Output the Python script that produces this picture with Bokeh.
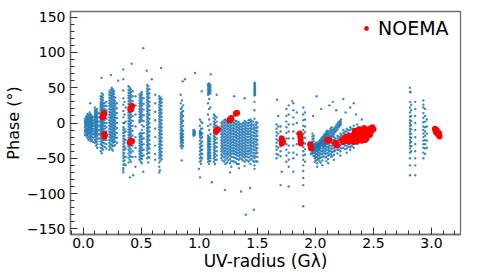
from bokeh.plotting import figure
from bokeh.models import Range1d, SingleIntervalTicker, Legend, LegendItem, ColumnDataSource
from bokeh.embed import file_html
from bokeh.resources import INLINE

# ---------------- data ----------------
# Blue visibilities, vertical strips: x position of each strip and its phase values
strips_low_x = [0.015, 0.025, 0.035, 0.045, 0.055, 0.065, 0.075, 0.085, 0.10, 0.11,
                0.12, 0.135, 0.15, 0.16, 0.17, 0.185, 0.20, 0.225, 0.235, 0.245,
                0.255, 0.265, 0.275, 0.29, 0.345, 0.355, 0.365, 0.39, 0.40, 0.41,
                0.425, 0.45, 0.485, 0.495, 0.505, 0.52, 0.55, 0.56, 0.57, 0.62,
                0.655, 0.665, 0.675]
strips_low_y = [
    [6, 3, 0, -3, -6, -10, -13, -17],
    [9, 5, 2, -1, -4, -8, -11, -14, -18],
    [13, 10, 7, 4, 1, -2, -5, -8, -11, -14, -17, -21],
    [11, 8, 5, 2, -1, -4, -7, -10, -13, -16, -20, -24],
    [15, 12, 9, 6, 3, 0, -3, -6, -9, -12, -15, -19, -23],
    [12, 8, 5, 2, -1, -4, -7, -10, -13, -17, -21, -26],
    [10, 7, 4, 1, -2, -5, -8, -11, -15, -19, -24],
    [8, 4, 0, -4, -8, -12, -16, -21, -27],
    [22, 19, 16, 13, 10, 7, 4, 1, -2, -5, -8, -11, -14, -17, -20, -24, -28],
    [18, 14, 11, 8, 5, 2, -1, -4, -7, -10, -13, -16, -19, -23, -27, -32],
    [20, 16, 12, 9, 6, 3, 0, -3, -6, -9, -12, -15, -18, -22, -26, -30, -35],
    [14, 8, 2, -4, -10, -16, -22],
    [38, 34, 30, 27, 24, 21, 18, 15, 12, 9, 6, 3, 0, -3, -6, -9, -12, -15, -18, -22, -26, -30, -35, -40],
    [42, 37, 33, 29, 26, 23, 20, 17, 14, 11, 8, 5, 2, -1, -4, -7, -10, -13, -16, -19, -23, -27, -31, -36, -43],
    [40, 36, 32, 28, 25, 22, 19, 16, 13, 10, 7, 4, 1, -2, -5, -8, -11, -14, -17, -20, -24, -28, -33, -38],
    [28, 24, 20, 16, 12, 8, 4, 0, -4, -8, -12, -16, -20, -24, -29, -34],
    [30, 24, 18, 12, 6, 0, -6, -12, -18, -24, -30, -36],
    [44, 40, 36, 32, 28, 24, 20, 16, 12, 8, 4, 0, -4, -8, -12, -16, -20, -24, -28, -33, -38],
    [47, 43, 39, 35, 31, 27, 23, 19, 15, 11, 7, 3, -1, -5, -9, -13, -17, -21, -25, -30, -35],
    [50, 46, 42, 38, 34, 30, 26, 22, 18, 14, 10, 6, 2, -2, -6, -10, -14, -18, -22, -26, -31, -37],
    [48, 44, 40, 36, 32, 28, 24, 20, 16, 12, 8, 4, 0, -4, -8, -12, -16, -20, -24, -28, -33, -39],
    [45, 41, 37, 33, 29, 25, 21, 17, 13, 9, 5, 1, -3, -7, -11, -15, -19, -23, -27, -32],
    [36, 31, 27, 23, 19, 15, 11, 7, 3, -1, -5, -9, -13, -17, -21, -26, -31],
    [28, 21, 14, 7, 0, -7, -14, -21, -28],
    [62, 46, 35, 26, 17, 8, 0, -6, -10, -14, -18, -22, -26, -30, -34, -38, -42, -46, -50, -54, -59, -64, -70],
    [30, 12, 0, -8, -13, -18, -23, -28, -33, -38, -43, -48, -53, -58],
    [22, 2, -12, -24, -36, -48, -60],
    [52, 47, 43, 39, 35, 31, 27, 23, 19, 15, 11, 7, 3, -1, -5, -9, -13, -17, -21, -25, -29, -33, -38, -43, -49, -56],
    [50, 46, 42, 38, 34, 30, 26, 22, 18, 14, 10, 6, 2, -2, -6, -10, -14, -18, -22, -26, -30, -35, -40, -46, -52],
    [48, 44, 40, 36, 32, 28, 24, 20, 16, 12, 8, 4, 0, -4, -8, -12, -16, -20, -24, -28, -32, -37, -42, -48, -55],
    [45, 38, 31, 24, 17, 10, 3, -4, -11, -18, -25, -32, -40, -48],
    [38, 25, 12, -5, -20, -35, -48, -62],
    [40, 36, 32, 28, 24, 20, 16, 12, 8, 4, 1, -16, -20, -24, -28, -32, -36, -40, -44, -48, -52],
    [42, 38, 34, 30, 26, 22, 18, 14, 10, 6, 2, -14, -18, -22, -26, -30, -34, -38, -42, -46, -50, -55],
    [44, 40, 36, 32, 28, 24, 20, 16, 12, 8, 4, -3, -10, -15, -19, -23, -27, -31, -35, -39, -43, -47, -51, -57],
    [35, 27, 19, 11, 3, -5, -14, -22, -30, -38, -46],
    [54, 49, 45, 41, 37, 33, 29, 25, 21, 17, 13, 9, 5, 1, -3, -7, -11, -15, -19, -23, -27, -31, -35, -39, -44, -50],
    [52, 47, 43, 39, 35, 31, 27, 23, 19, 15, 11, 7, 3, -1, -5, -9, -13, -17, -21, -25, -29, -33, -37, -42, -48, -56],
    [48, 42, 36, 30, 24, 18, 12, 6, 0, -6, -12, -18, -24, -30, -36, -42, -49],
    [40, 28, 16, 4, -8, -20, -32, -44, -52],
    [38, 34, 30, 26, 22, 18, 14, 10, 6, 2, -2, -6, -10, -14, -18, -22, -26, -30, -34, -38, -42, -46, -50, -56, -62, -70],
    [36, 32, 28, 24, 20, 16, 12, 8, 4, 0, -4, -8, -12, -16, -20, -24, -28, -32, -36, -40, -44, -48, -53],
    [34, 29, 24, 19, 14, 9, 4, -1, -6, -11, -16, -21, -26, -31, -36, -41, -46, -51],
]

strips_mid_x = [0.84, 0.85, 0.86, 0.95, 0.96, 1.005, 1.015, 1.025, 1.075, 1.085,
                1.095, 1.125, 1.135, 1.15, 1.19, 1.20, 1.215, 1.225, 1.24, 1.25,
                1.265, 1.275, 1.29, 1.30, 1.315, 1.325, 1.34, 1.35, 1.365, 1.375,
                1.39, 1.40, 1.415, 1.425, 1.44, 1.45, 1.465, 1.475, 1.48, 1.49, 1.50]
strips_mid_y = [
    [40, 28, 20, 14, 10, 6, 2, -2, -6, -10, -14, -17, -20, -23, -26, -29, -33],
    [32, 22, 16, 12, 8, 4, 0, -4, -8, -12, -15, -18, -21, -24, -27, -31, -36],
    [25, 17, 10, 3, -4, -11, -16, -20, -24, -28, -33],
    [-10, -12, -14, -16, -18],
    [-11, -13, -15, -17],
    [5, -4, -11, -13, -15, -17, -20, -25, -30, -35, -40, -45, -50, -55],
    [2, -8, -13, -15, -17, -22, -28, -33, -38, -43, -48, -53, -58],
    [0, -8, -15, -20, -26, -32, -38, -44, -50],
    [55, 52, 49, 46, 43, 40, 28, 12, -4, -18, -21, -24, -27, -30, -33, -36, -39, -42, -45, -48, -51, -55],
    [56, 53, 50, 47, 44, 41, 34, 20, 5, -10, -20, -23, -26, -29, -32, -35, -38, -41, -44, -47, -50, -54, -58],
    [54, 51, 48, 45, 42, 22, -2, -16, -22, -26, -30, -34, -38, -42, -46, -50, -54],
    [12, 7, 2, -2, -6, -10, -14, -18, -22, -26, -30, -34, -38, -42, -46, -50, -55],
    [10, 5, 0, -4, -8, -12, -16, -20, -24, -28, -32, -36, -40, -44, -48, -52, -58],
    [8, 2, -4, -10, -16, -22, -28, -34, -40, -46, -52],
    [0, -4, -8, -12, -16, -20, -24, -28, -32, -36, -40, -45, -50],
    [2, -2, -6, -10, -14, -18, -22, -26, -30, -34, -38, -42, -47, -53],
    [4, 0, -4, -8, -12, -16, -20, -24, -28, -32, -36, -40, -44, -49, -55],
    [5, 1, -3, -7, -11, -15, -19, -23, -27, -31, -35, -39, -43, -47, -52, -58],
    [3, -1, -5, -9, -13, -17, -21, -25, -29, -33, -37, -41, -45, -50, -56],
    [4, 0, -4, -8, -12, -16, -20, -24, -28, -32, -36, -40, -44, -48, -53],
    [2, -2, -6, -10, -14, -18, -22, -26, -30, -34, -38, -42, -46, -51, -57],
    [0, -4, -8, -12, -16, -20, -24, -28, -32, -36, -40, -44, -48, -54, -62],
    [1, -3, -7, -11, -15, -19, -23, -27, -31, -35, -39, -43, -48, -54],
    [4, 0, -4, -8, -12, -16, -20, -24, -28, -32, -36, -40, -44, -49, -55],
    [3, -1, -5, -9, -13, -17, -21, -25, -29, -33, -37, -41, -45, -50, -56],
    [2, -2, -6, -10, -14, -18, -22, -26, -30, -34, -38, -42, -46, -51, -58],
    [1, -3, -7, -11, -15, -19, -23, -27, -31, -35, -39, -43, -47, -52, -58, -64],
    [-1, -5, -9, -13, -17, -21, -25, -29, -33, -37, -41, -45, -50],
    [-2, -6, -10, -14, -18, -22, -26, -30, -34, -38, -42, -46, -51],
    [0, -4, -8, -12, -16, -20, -24, -28, -32, -36, -40, -44, -48, -53],
    [3, -1, -5, -9, -13, -17, -21, -25, -29, -33, -37, -41, -45, -49, -55, -61],
    [1, -3, -7, -11, -15, -19, -23, -27, -31, -35, -39, -43, -47, -52],
    [0, -4, -8, -12, -16, -20, -24, -28, -32, -36, -40, -44, -48, -53],
    [4, 0, -4, -8, -12, -16, -20, -24, -28, -32, -36, -40, -44, -49, -55],
    [5, 1, -3, -7, -11, -15, -19, -23, -27, -31, -35, -39, -43, -47, -52, -58],
    [3, -1, -5, -9, -13, -17, -21, -25, -29, -33, -37, -41, -46, -51],
    [2, -3, -8, -13, -18, -23, -28, -33, -38, -43, -48, -54],
    [57, 54, 51, 48, 45, 42, 39, 30, 18, 6, -2, -6, -10, -14, -18, -22, -26, -30, -34, -38, -42, -46, -50, -55, -60, -65],
    [56, 52, 49, 46, 43, 40],
    [1, -3, -7, -11, -15, -19, -23, -27, -31, -35, -39, -43, -48, -54],
    [0, -6, -12, -18, -24, -30, -36, -42, -48, -55],
]

strips_high_x = [1.665, 1.68, 1.70, 1.75, 1.77, 1.81, 1.84, 1.895, 1.91,
                 1.975, 1.985, 1.995, 2.005, 2.015, 2.025, 2.035, 2.045, 2.06, 2.07,
                 2.085, 2.095, 2.11, 2.12, 2.135, 2.145, 2.16, 2.17, 2.19, 2.20,
                 2.215, 2.225, 2.24, 2.255, 2.27, 2.285, 2.30, 2.315, 2.33, 2.36,
                 2.815, 2.825, 2.86, 2.93, 2.945, 2.96]
strips_high_y = [
    [-2, -8, -13, -18, -23, -28, -33, -38, -44, -50],
    [10, -5, -15, -25, -35, -45],
    [-5, -12, -19, -26, -33, -40, -47],
    [20, 10, 2, -6, -14, -22, -30, -38, -46, -55],
    [25, 12, -2, -12, -22, -32, -42, -52, -62],
    [28, 18, 8, -2, -12, -22, -32, -42, -50],
    [15, 0, -15, -30, -45],
    [22, 12, 4, -4, -10, -16, -22, -28, -34, -40, -46, -52, -60, -68, -78],
    [15, 5, -5, -13, -21, -29, -37, -45, -55],
    [-15, -19, -23, -27, -31, -35, -39, -44],
    [-18, -22, -26, -30, -34, -38, -42, -47],
    [-30, -34, -38, -42, -46, -50, -55],
    [-28, -32, -36, -40, -44, -48, -53],
    [-32, -36, -40, -44, -48, -52, -57, -62],
    [-30, -34, -38, -42, -46, -51],
    [-30, -34, -38, -42, -46, -50, -54],
    [-28, -32, -36, -40, -44, -49, -56],
    [-28, -32, -36, -40, -44, -48, -53, -60],
    [-26, -30, -34, -38, -42, -47],
    [-24, -28, -32, -36, -40, -44, -49],
    [-26, -30, -34, -38, -43, -48, -54],
    [-30, -34, -38, -42, -46, -51, -57],
    [-28, -32, -36, -40, -45],
    [-28, -32, -36, -40, -44, -48],
    [-24, -28, -32, -36, -41, -47],
    [-20, -24, -28, -32, -36, -40, -45, -52],
    [-22, -26, -30, -34, -39],
    [-18, -22, -26, -30, -34, -38, -43],
    [-20, -24, -28, -33, -38],
    [-15, -19, -23, -27, -31, -35, -40, -46],
    [-17, -21, -25, -30, -36],
    [-10, -14, -18, -22, -26, -30, -35],
    [-12, -16, -28, -32, -37],
    [-8, -12, -28, -32, -36, -42],
    [-10, -14, -30, -34],
    [-6, -10, -30, -34, -38],
    [-8, -28, -33],
    [-4, -26, -30, -35],
    [-2, -25, -30],
    [50, 44, 30, 22, 15, 9, 4, 0, -4, -8, -12, -16, -20, -24, -28, -32, -36, -42, -50, -60, -74],
    [26, 18, 10, 3, -3, -9, -15, -21, -27, -33, -40],
    [30, 20, 10, 0, -10, -20, -30, -40, -50, -60],
    [32, 22, 14, 7, 1, -5, -10, -15, -20, -25, -30, -35, -42, -50],
    [20, 10, 2, -6, -12, -18, -24, -30, -36, -44],
    [5, -5, -15, -25, -35],
]

# rising streaks between 1.96 and 2.4 G-lambda
streak_x = [1.96, 1.97, 1.98, 1.99, 2.00, 2.01, 2.02, 2.03, 2.04, 2.05, 2.06,
            1.98, 1.99, 2.00, 2.01, 2.02, 2.03, 2.04, 2.05, 2.06, 2.07, 2.08, 2.09, 2.10,
            1.98, 1.99, 2.00, 2.01, 2.02, 2.03, 2.04, 2.05, 2.06, 2.07, 2.08, 2.09, 2.10,
            2.02, 2.03, 2.04, 2.05, 2.06, 2.07, 2.08, 2.09, 2.10, 2.11, 2.12, 2.13, 2.14,
            2.02, 2.03, 2.04, 2.05, 2.06, 2.07, 2.08, 2.09, 2.10, 2.11, 2.12, 2.13, 2.14,
            2.07, 2.08, 2.09, 2.10, 2.11, 2.12, 2.13, 2.14, 2.15, 2.16, 2.17, 2.18, 2.19, 2.20, 2.21, 2.22,
            2.07, 2.08, 2.09, 2.10, 2.11, 2.12, 2.13, 2.14, 2.15, 2.16, 2.17, 2.18, 2.19, 2.20, 2.21, 2.22,
            2.11, 2.12, 2.13, 2.14, 2.15, 2.16, 2.17, 2.18, 2.19, 2.20, 2.21, 2.22,
            2.25, 2.26, 2.27, 2.28, 2.29, 2.30, 2.31, 2.32, 2.33, 2.34, 2.35, 2.36, 2.37,
            2.25, 2.26, 2.27, 2.28, 2.29, 2.30, 2.31, 2.32, 2.33, 2.34, 2.35, 2.36, 2.37]
streak_y = [-44, -42, -40, -38, -36, -34, -32, -30, -28, -26, -24,
            -36, -34, -32, -30, -28, -26, -24, -22, -20, -18, -16, -13, -11,
            -40, -38, -36, -34, -32, -30, -28, -26, -24, -21, -19, -17, -15,
            -34, -32, -29, -27, -25, -22, -20, -18, -15, -13, -11, -8, -6,
            -38, -36, -33, -31, -29, -26, -24, -22, -19, -17, -15, -12, -10,
            -29, -27, -25, -22, -20, -18, -15, -13, -10, -8, -6, -3, -1, 1, 3, 5,
            -33, -31, -29, -26, -24, -22, -19, -17, -14, -12, -10, -7, -5, -3, -1, 1,
            -27, -25, -23, -20, -18, -16, -13, -11, -9, -6, -4, -2,
            -25, -23, -22, -20, -19, -17, -15, -14, -12, -10, -9, -7, -6,
            -29, -27, -26, -24, -23, -21, -19, -18, -16, -14, -13, -11, -10]

# isolated scattered points
scatter_x = [0.517, 0.417, 0.345, 0.546, 0.67, 0.238, 0.158, 0.963, 1.098, 0.857,
             0.59, 0.876, 0.06, 0.30, 1.02, 1.15, 1.30, 1.39, 1.67, 1.80,
             2.01, 2.24, 2.05, 2.12, 2.18, 2.26, 2.30, 2.15, 2.35, 2.40, 1.98, 2.33,
             2.82, 2.93, 0.345, 0.43, 0.517, 0.66, 1.006, 1.107, 1.22, 1.36,
             1.437, 1.47, 1.40, 1.70, 1.77, 1.895, 2.86, 1.71, 1.81, 1.895,
             0.848, 1.264, 0.402, 0.997]
scatter_y = [106, 84, 76, 74, 78, 68, 64, 71, 69, 59,
             62, 62, 28, 60, 45, 40, 38, 35, 33, 31,
             38, 34, 20, 25, 18, 15, 22, 30, 12, 5, 10, 28,
             44, 26, -67, -74, -69, -67, -77, -84, -95, -97,
             -92, -123, -130, -88, -90, -118, -74, -69, -69, -88,
             -53, -70, -77, -65]

# NOEMA visibilities
noema_x = [0.165, 0.17, 0.175, 0.18, 0.172, 0.178, 0.18, 0.183, 0.186,
           0.405, 0.41, 0.415, 0.42, 0.412, 0.40, 0.405, 0.41, 0.415, 0.42,
           1.145, 1.15, 1.155, 1.16, 1.26, 1.265, 1.27, 1.275, 1.315, 1.32, 1.325,
           1.71, 1.715, 1.72, 1.71, 1.865, 1.87, 1.872, 1.875, 1.955, 1.96, 1.962,
           2.10, 2.11, 2.12, 2.175, 2.18, 2.185, 2.17,
           2.23, 2.24, 2.25, 2.26, 2.27, 2.28, 2.29, 2.30, 2.31, 2.32, 2.33, 2.34,
           2.35, 2.36, 2.37, 2.38, 2.39, 2.40, 2.41, 2.42, 2.43, 2.44, 2.45, 2.46,
           2.47, 2.48, 2.49, 2.50, 2.36, 2.40, 2.44, 2.47, 2.26, 2.33, 2.38, 2.42, 2.34,
           3.03, 3.035, 3.04, 3.05, 3.06, 3.07, 3.065, 3.045]
noema_y = [8, 10, 12, 14, 9, 12, -16, -19, -17,
           19, 21, 23, 24, 20, -28, -27, -26, -25, -26,
           -12, -11, -10, -9, 4, 5, 6, 7, 13, 14, 14,
           -22, -25, -27, -29, -15, -20, -25, -29, -30, -33, -36,
           -24, -25, -24, -28, -30, -32, -29,
           -24, -27, -22, -25, -19, -23, -26, -18, -22, -25, -20, -16,
           -24, -19, -13, -22, -17, -11, -20, -14, -24, -18, -10, -15,
           -8, -12, -6, -9, -26, -25, -22, -17, -21, -27, -9, -7, -11,
           -8, -11, -13, -15, -17, -19, -14, -10]

x_ticks = [0.0, 0.5, 1.0, 1.5, 2.0, 2.5, 3.0]
x_tick_labels = ["0.0", "0.5", "1.0", "1.5", "2.0", "2.5", "3.0"]
y_ticks = [-150, -100, -50, 0, 50, 100, 150]
y_tick_labels = ["\u2212150", "\u2212100", "\u221250", "0", "50", "100", "150"]

# ---------------- build flat columns ----------------
bx, by = [], []
for xs, ys in ((strips_low_x, strips_low_y), (strips_mid_x, strips_mid_y), (strips_high_x, strips_high_y)):
    for sx, yl in zip(xs, ys):
        bx.extend([sx] * len(yl))
        by.extend(yl)
bx.extend(streak_x); by.extend(streak_y)
bx.extend(scatter_x); by.extend(scatter_y)

blue_src = ColumnDataSource(dict(x=bx, y=by))
red_src = ColumnDataSource(dict(x=noema_x, y=noema_y))

FONT = "DejaVu Sans"
p = figure(width=480, height=273, output_backend="svg", toolbar_location=None,
           x_range=Range1d(-0.11, 3.25), y_range=Range1d(-158, 158),
           min_border_top=11, min_border_right=20, min_border_left=70, min_border_bottom=36)
p.background_fill_color = "white"
p.border_fill_color = "white"
p.grid.visible = False
p.outline_line_color = "#6e6e6e"
p.outline_line_width = 1.3

p.scatter("x", "y", source=blue_src, size=2.4, color="#1f77b4", alpha=0.85, line_color=None)
red = p.scatter("x", "y", source=red_src, size=6, color="#ff0000", line_color=None)

p.xaxis.ticker = SingleIntervalTicker(interval=0.5, num_minor_ticks=5)
p.yaxis.ticker = SingleIntervalTicker(interval=50, num_minor_ticks=5)
p.xaxis.major_label_overrides = dict(zip(x_ticks, x_tick_labels))
p.yaxis.major_label_overrides = dict(zip(y_ticks, y_tick_labels))

for ax in (p.xaxis, p.yaxis):
    ax.axis_line_color = "#6e6e6e"
    ax.axis_line_width = 1.3
    ax.major_tick_line_color = "#333333"
    ax.minor_tick_line_color = "#333333"
    ax.major_tick_in = 7
    ax.major_tick_out = 0
    ax.minor_tick_in = 4
    ax.minor_tick_out = 0
    ax.major_label_text_font = FONT
    ax.major_label_text_font_size = "14px"
    ax.major_label_text_color = "black"
    ax.axis_label_text_font = FONT
    ax.axis_label_text_font_style = "normal"
    ax.axis_label_text_color = "black"

p.xaxis.axis_label = "UV-radius (G\u03bb)"
p.xaxis.axis_label_text_font_size = "17px"
p.xaxis.major_label_standoff = 3
p.xaxis.axis_label_standoff = 0
p.yaxis.axis_label = "Phase (\u00b0)"
p.yaxis.axis_label_text_font_size = "16px"
p.yaxis.major_label_standoff = 5
p.yaxis.axis_label_standoff = 1

legend = Legend(items=[LegendItem(label="NOEMA", renderers=[red])], location="top_right",
                label_text_font=FONT, label_text_font_size="19px", label_text_color="black",
                border_line_alpha=0, background_fill_alpha=0, margin=2, padding=4,
                glyph_width=12, glyph_height=12, label_standoff=6, label_width=76)
p.add_layout(legend)

open("out.html", "w").write(file_html(p, INLINE))
